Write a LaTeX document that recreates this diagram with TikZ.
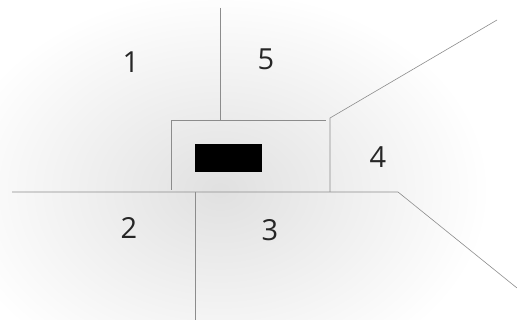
\documentclass[tikz,border=0pt]{standalone}
\usepackage{fontspec}
\setmainfont{Open Sans}
\begin{document}
\begin{tikzpicture}[x=1pt,y=-1pt,
  edge/.style={draw=black!45,line width=0.6pt},
  lbl/.style={font=\fontsize{29}{30}\selectfont\color{black!85},inner sep=0pt}]
\useasboundingbox (0,0) rectangle (517,320);
% stippled ground (approximated by a soft shading)
\begin{scope}
\clip (0,0) rectangle (517,320);
\shade[inner color=black!12,outer color=white] (220,190) ellipse (270 and 200);
\end{scope}
% coordinates
\coordinate (vt) at (220,8);
\coordinate (vb) at (220,120);
\coordinate (btl) at (171,120);
\coordinate (btr) at (326,120);
\coordinate (bc) at (330,118);
\coordinate (bbr) at (330,192);
\coordinate (bbl) at (171,190);
\coordinate (hl) at (12,192);
\coordinate (hr) at (398,192);
\coordinate (dr) at (517,288);
\coordinate (ur) at (497,20);
\coordinate (st) at (195,192);
\coordinate (sb) at (195,320);
% lines
\draw[edge] (vt) -- (vb);
\draw[edge] (bbl) -- (btl) -- (btr);
\draw[edge] (bbr) -- (bc) -- (ur);
\draw[edge] (hl) -- (hr) -- (dr);
\draw[edge] (st) -- (sb);
% black block
\node[fill=black,minimum width=67pt,minimum height=28pt,inner sep=0pt,anchor=north west] (blk) at (195,144) {};
% labels
\node[lbl] (l1) at (131,62) {1};
\node[lbl] (l5) at (266,59) {5};
\node[lbl] (l4) at (378,157) {4};
\node[lbl] (l2) at (129,228) {2};
\node[lbl] (l3) at (270,230) {3};
\end{tikzpicture}
\end{document}
